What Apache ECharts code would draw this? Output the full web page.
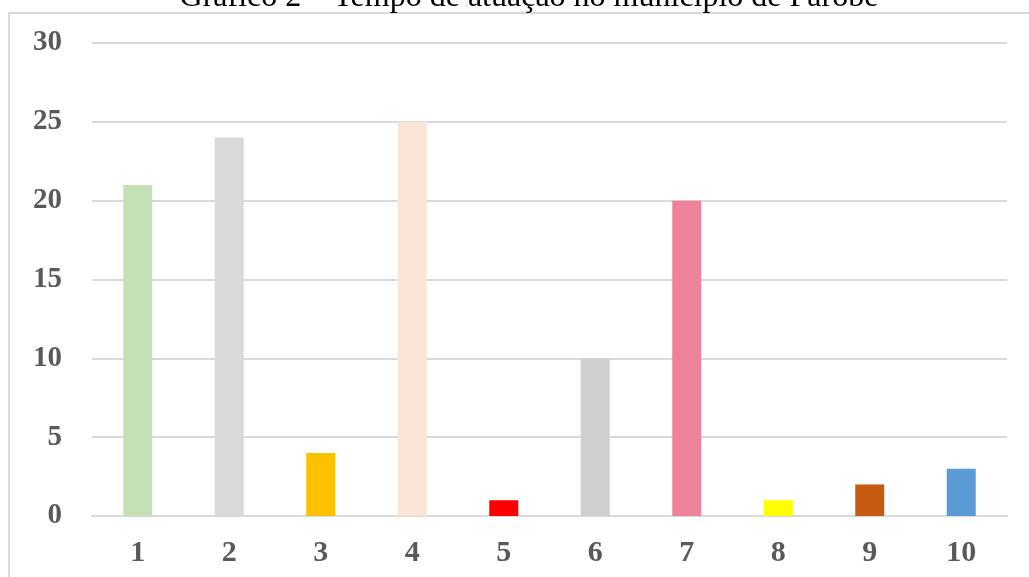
<!DOCTYPE html>
<html><head><meta charset="utf-8">
<script src="https://cdn.jsdelivr.net/npm/echarts@6/dist/echarts.min.js"></script>
<style>
html,body{margin:0;padding:0;background:#fff;overflow:hidden}
#frame{position:absolute;left:8px;top:12px;width:1040px;height:600px;border-left:2px solid #d9d9d9;border-top:2px solid #d9d9d9}
#c{position:absolute;left:0;top:0;width:1029px;height:577px}
</style></head><body>
<div id="frame"></div>
<div id="c"></div>
<script>
const titleText = 'Gráfico 2 – Tempo de atuação no município de Parobé';
const categories = ['1','2','3','4','5','6','7','8','9','10'];
const values = [21, 24, 4, 25, 1, 10, 20, 1, 2, 3];
const colors = ['#C5E0B4','#D9D9D9','#FFC000','#FBE5D6','#FF0000','#D0CECE','#ED8299','#FFFF00','#C55A11','#5B9BD5'];
const yTicks = [0,5,10,15,20,25,30];

const chart = echarts.init(document.getElementById('c'), null, {renderer:'canvas'});
chart.setOption({
  backgroundColor: 'transparent',
  animation: false,
  title: {
    text: titleText, left: 524, top: -23, textAlign: 'center',
    textStyle: {fontFamily: 'Liberation Serif', fontWeight: 'normal', fontSize: 32, color: '#000'}
  },
  grid: {left: 92, right: 22, top: 43, bottom: 61},
  xAxis: {
    type: 'category', data: categories,
    axisLine: {lineStyle: {color: '#d9d9d9', width: 2}},
    axisTick: {show: false},
    axisLabel: {margin: 22, color: '#595959', fontFamily: 'Liberation Serif', fontWeight: 'bold', fontSize: 30}
  },
  yAxis: {
    type: 'value', min: yTicks[0], max: yTicks[yTicks.length-1], interval: 5,
    axisLine: {show: false}, axisTick: {show: false},
    splitLine: {lineStyle: {color: '#d9d9d9', width: 2}},
    axisLabel: {margin: 30, color: '#595959', fontFamily: 'Liberation Serif', fontWeight: 'bold', fontSize: 29}
  },
  series: [{
    type: 'bar', barWidth: 29,
    data: values.map((v,i)=>({value: v, itemStyle: {color: colors[i]}}))
  }]
});
</script>
</body></html>
